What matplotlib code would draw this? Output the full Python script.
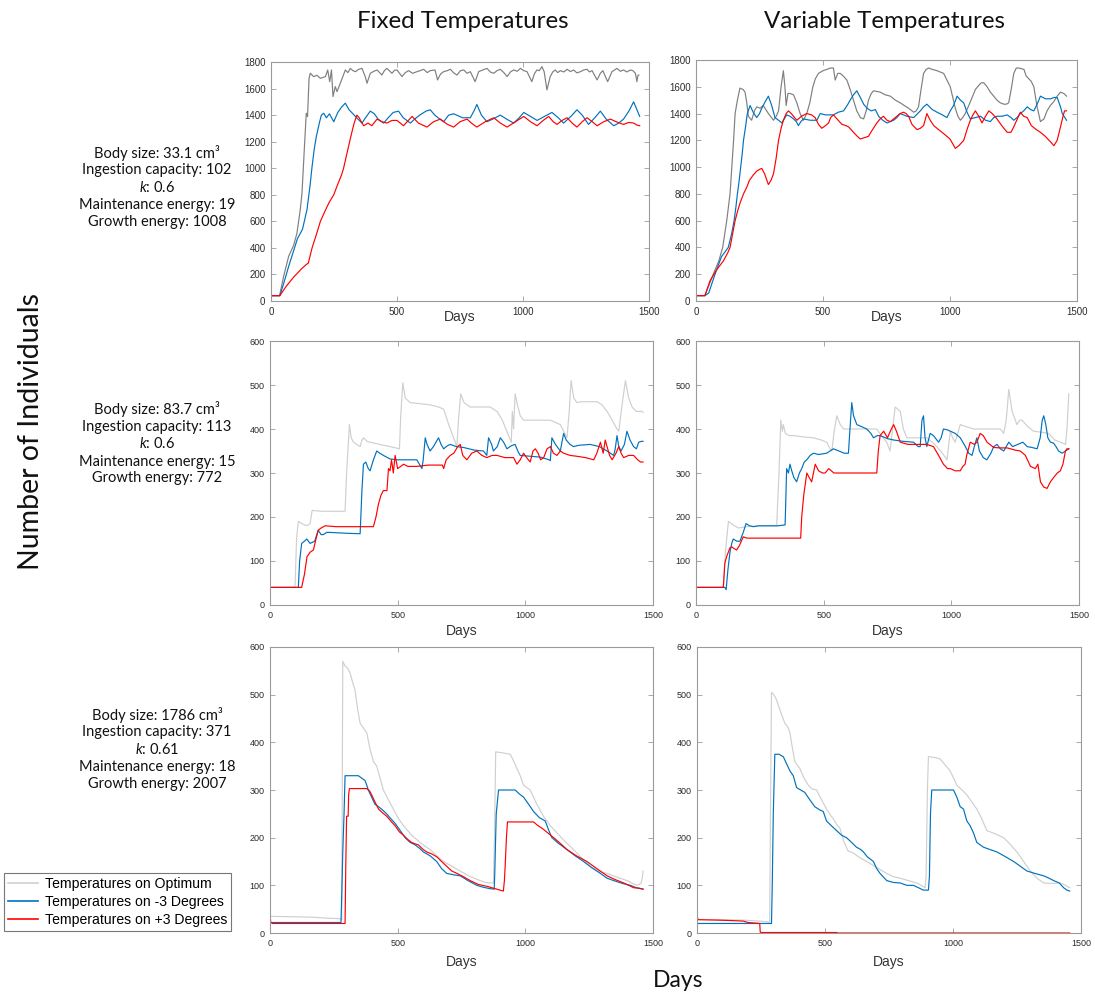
import matplotlib
matplotlib.use("Agg")
import matplotlib.pyplot as plt
from matplotlib.lines import Line2D

# ---------------------------------------------------------------------------
# Population time series, (day, number of individuals)
# Row 1: small species, row 2: medium species, row 3: large species
# "fix" = fixed temperatures, "var" = variable temperatures
# opt = optimum, m3 = -3 degrees, p3 = +3 degrees
# ---------------------------------------------------------------------------
fix1_opt = [(0, 40), (34, 40), (50, 185), (70, 336), (90, 420), (103, 511), (116, 687), (123, 812),
            (132, 1138), (140, 1414), (145, 1389), (151, 1677), (156, 1715), (169, 1690), (182, 1700),
            (196, 1677), (216, 1690), (225, 1740), (233, 1652), (240, 1740), (246, 1540), (255, 1615),
            (262, 1577), (275, 1640), (295, 1740), (305, 1720), (315, 1752), (325, 1735), (335, 1727),
            (348, 1745), (361, 1752), (374, 1690), (381, 1640), (394, 1715), (408, 1730), (421, 1740),
            (440, 1702), (450, 1735), (460, 1752), (480, 1715), (490, 1738), (500, 1740), (520, 1690),
            (533, 1720), (546, 1735), (562, 1715), (579, 1727), (592, 1735), (606, 1745), (620, 1720),
            (632, 1735), (651, 1740), (661, 1665), (673, 1710), (685, 1727), (700, 1735), (712, 1745),
            (725, 1718), (738, 1702), (752, 1735), (765, 1740), (778, 1715), (791, 1727), (810, 1652),
            (824, 1727), (840, 1740), (857, 1752), (870, 1725), (884, 1715), (897, 1735), (910, 1745),
            (924, 1720), (937, 1690), (950, 1725), (963, 1740), (977, 1730), (990, 1752), (1003, 1735),
            (1016, 1727), (1035, 1652), (1045, 1710), (1055, 1740), (1065, 1735), (1075, 1765),
            (1084, 1727), (1095, 1590), (1108, 1690), (1118, 1725), (1128, 1740), (1138, 1720),
            (1148, 1735), (1162, 1725), (1175, 1745), (1188, 1728), (1201, 1740), (1214, 1718),
            (1228, 1727), (1241, 1740), (1254, 1745), (1264, 1725), (1274, 1735), (1294, 1665),
            (1307, 1715), (1317, 1735), (1327, 1690), (1336, 1652), (1353, 1727), (1363, 1740),
            (1373, 1752), (1386, 1730), (1399, 1740), (1412, 1725), (1426, 1740), (1436, 1735),
            (1446, 1715), (1452, 1652), (1456, 1700), (1460, 1702)]
fix1_m3 = [(0, 40), (35, 40), (50, 130), (70, 260), (90, 380), (105, 470), (125, 540), (143, 690),
           (155, 870), (163, 1013), (172, 1150), (180, 1240), (193, 1350), (200, 1400), (209, 1414),
           (220, 1380), (232, 1410), (249, 1350), (265, 1420), (280, 1460), (295, 1490), (310, 1440),
           (330, 1400), (345, 1370), (361, 1340), (375, 1380), (394, 1430), (410, 1410), (425, 1370),
           (447, 1340), (465, 1380), (485, 1420), (506, 1430), (525, 1380), (553, 1340), (570, 1370),
           (590, 1400), (615, 1430), (632, 1440), (650, 1400), (670, 1370), (685, 1350), (705, 1400),
           (725, 1410), (760, 1380), (791, 1380), (805, 1430), (817, 1480), (835, 1400), (857, 1350),
           (880, 1370), (910, 1400), (935, 1370), (963, 1340), (985, 1380), (1003, 1420), (1030, 1390),
           (1056, 1360), (1085, 1390), (1115, 1420), (1140, 1380), (1161, 1340), (1190, 1390),
           (1214, 1440), (1235, 1400), (1260, 1330), (1285, 1380), (1307, 1430), (1330, 1370),
           (1360, 1320), (1380, 1340), (1399, 1370), (1420, 1430), (1439, 1500), (1450, 1450),
           (1463, 1390)]
fix1_p3 = [(0, 40), (35, 40), (60, 110), (90, 180), (120, 240), (140, 275), (148, 285), (163, 400),
           (180, 500), (196, 600), (215, 680), (230, 740), (249, 800), (265, 880), (280, 950),
           (288, 1000), (300, 1100), (312, 1200), (322, 1280), (330, 1340), (341, 1400), (350, 1380),
           (358, 1350), (368, 1320), (385, 1340), (400, 1320), (421, 1370), (440, 1350), (460, 1340),
           (480, 1360), (500, 1360), (526, 1320), (545, 1360), (560, 1390), (585, 1340), (619, 1310),
           (645, 1350), (672, 1370), (700, 1330), (725, 1310), (750, 1350), (778, 1370), (795, 1340),
           (817, 1310), (850, 1350), (884, 1380), (910, 1340), (937, 1310), (970, 1350), (1003, 1390),
           (1030, 1350), (1056, 1320), (1080, 1360), (1102, 1390), (1120, 1350), (1135, 1330),
           (1155, 1360), (1175, 1380), (1195, 1340), (1214, 1310), (1235, 1350), (1254, 1380),
           (1275, 1350), (1294, 1320), (1320, 1350), (1347, 1370), (1370, 1350), (1399, 1330),
           (1420, 1345), (1439, 1340), (1452, 1325), (1463, 1320)]

var1_opt = [(0, 40), (35, 40), (68, 200), (90, 300), (105, 400), (121, 600), (134, 800), (141, 1000),
            (148, 1200), (154, 1400), (163, 1500), (173, 1590), (185, 1580), (193, 1560), (200, 1480),
            (206, 1380), (219, 1350), (230, 1420), (239, 1450), (252, 1440), (265, 1460), (285, 1400),
            (305, 1350), (316, 1380), (325, 1420), (335, 1600), (344, 1720), (350, 1600), (355, 1460),
            (362, 1550), (370, 1550), (384, 1540), (397, 1480), (410, 1400), (423, 1350), (436, 1400),
            (448, 1480), (460, 1600), (470, 1660), (482, 1700), (500, 1720), (515, 1730), (530, 1740),
            (541, 1740), (548, 1650), (558, 1700), (568, 1700), (580, 1680), (594, 1650), (607, 1580),
            (620, 1500), (633, 1420), (647, 1370), (660, 1360), (670, 1420), (679, 1500), (690, 1550),
            (699, 1570), (712, 1565), (725, 1560), (745, 1540), (765, 1530), (785, 1500), (804, 1480),
            (820, 1460), (837, 1440), (857, 1410), (867, 1420), (876, 1450), (886, 1580), (896, 1700),
            (906, 1730), (916, 1740), (930, 1730), (949, 1720), (962, 1710), (975, 1700), (988, 1650),
            (1001, 1600), (1011, 1520), (1021, 1440), (1031, 1380), (1041, 1350), (1050, 1370),
            (1060, 1400), (1074, 1460), (1087, 1520), (1100, 1580), (1113, 1610), (1123, 1630),
            (1133, 1630), (1146, 1600), (1159, 1560), (1172, 1530), (1185, 1500), (1198, 1480),
            (1212, 1470), (1222, 1470), (1231, 1480), (1241, 1580), (1251, 1700), (1261, 1740),
            (1271, 1740), (1281, 1735), (1291, 1730), (1300, 1680), (1310, 1660), (1320, 1640),
            (1330, 1600), (1343, 1450), (1356, 1340), (1370, 1360), (1382, 1420), (1395, 1460),
            (1409, 1490), (1422, 1530), (1435, 1560), (1448, 1550), (1459, 1530)]
var1_m3 = [(0, 40), (35, 40), (50, 60), (75, 200), (100, 330), (127, 400), (140, 500), (150, 600),
           (157, 700), (163, 800), (170, 900), (176, 1000), (182, 1100), (187, 1200), (195, 1300),
           (202, 1400), (213, 1460), (225, 1410), (239, 1370), (250, 1400), (259, 1440), (270, 1480),
           (285, 1530), (298, 1460), (311, 1370), (325, 1350), (338, 1330), (357, 1390), (370, 1380),
           (384, 1360), (395, 1340), (403, 1310), (413, 1340), (423, 1360), (450, 1350), (476, 1350),
           (489, 1400), (510, 1390), (541, 1390), (560, 1410), (581, 1420), (595, 1460), (607, 1500),
           (620, 1540), (633, 1570), (647, 1520), (660, 1470), (673, 1440), (690, 1420), (706, 1430),
           (719, 1380), (735, 1350), (752, 1330), (778, 1350), (791, 1370), (804, 1400), (817, 1390),
           (830, 1380), (857, 1370), (883, 1420), (896, 1450), (909, 1470), (930, 1430), (949, 1410),
           (970, 1390), (988, 1370), (1001, 1420), (1014, 1460), (1028, 1530), (1041, 1500),
           (1054, 1480), (1067, 1410), (1080, 1360), (1100, 1370), (1120, 1380), (1140, 1350),
           (1159, 1340), (1172, 1370), (1185, 1380), (1205, 1380), (1225, 1390), (1240, 1370),
           (1251, 1350), (1264, 1370), (1277, 1400), (1290, 1420), (1304, 1450), (1317, 1430),
           (1330, 1420), (1343, 1470), (1356, 1530), (1376, 1510), (1396, 1510), (1410, 1520),
           (1422, 1520), (1435, 1450), (1442, 1400), (1459, 1350)]
var1_p3 = [(0, 40), (35, 40), (55, 150), (80, 230), (108, 300), (125, 360), (134, 400), (144, 500),
           (154, 600), (165, 680), (175, 740), (187, 800), (200, 850), (210, 900), (225, 940),
           (239, 970), (252, 985), (259, 990), (270, 950), (285, 870), (295, 900), (305, 950),
           (315, 1060), (325, 1200), (335, 1290), (344, 1350), (355, 1400), (364, 1420), (375, 1400),
           (388, 1370), (397, 1350), (415, 1380), (436, 1400), (455, 1390), (469, 1370), (482, 1320),
           (495, 1290), (510, 1310), (522, 1330), (530, 1370), (541, 1390), (555, 1360), (574, 1320),
           (590, 1310), (601, 1300), (620, 1260), (635, 1230), (647, 1210), (663, 1220), (679, 1230),
           (695, 1280), (712, 1330), (725, 1360), (738, 1380), (752, 1350), (765, 1340), (778, 1360),
           (791, 1380), (804, 1400), (817, 1410), (827, 1400), (837, 1380), (850, 1320), (870, 1280),
           (883, 1290), (896, 1310), (909, 1400), (922, 1350), (936, 1310), (955, 1280), (975, 1250),
           (1000, 1210), (1021, 1140), (1035, 1160), (1054, 1200), (1067, 1280), (1080, 1350),
           (1090, 1390), (1100, 1420), (1113, 1380), (1126, 1330), (1140, 1380), (1153, 1420),
           (1166, 1400), (1185, 1360), (1200, 1320), (1212, 1290), (1225, 1260), (1240, 1260),
           (1251, 1300), (1265, 1360), (1277, 1410), (1290, 1380), (1304, 1370), (1320, 1310),
           (1340, 1280), (1356, 1260), (1375, 1230), (1395, 1190), (1409, 1160), (1422, 1200),
           (1435, 1300), (1445, 1380), (1451, 1420), (1459, 1420)]

fix2_opt = [(0, 40), (98, 40), (104, 150), (111, 190), (125, 185), (144, 180), (157, 185), (165, 215),
            (200, 213), (250, 213), (294, 213), (300, 300), (311, 410), (318, 380), (327, 370),
            (340, 365), (353, 360), (360, 375), (366, 380), (380, 372), (392, 370), (430, 365),
            (470, 360), (507, 355), (512, 430), (520, 505), (530, 470), (549, 460), (580, 458),
            (627, 455), (660, 450), (680, 445), (700, 410), (719, 380), (732, 360), (738, 420),
            (747, 480), (760, 460), (784, 450), (820, 450), (862, 450), (889, 440), (910, 420),
            (938, 380), (945, 370), (949, 440), (954, 400), (960, 480), (967, 460), (980, 430),
            (993, 420), (1040, 420), (1098, 420), (1137, 410), (1163, 380), (1172, 440), (1179, 510),
            (1190, 470), (1202, 460), (1220, 462), (1281, 462), (1300, 455), (1320, 440), (1340, 420),
            (1359, 400), (1366, 395), (1380, 460), (1392, 510), (1405, 470), (1418, 450), (1435, 440),
            (1457, 440), (1461, 438)]
fix2_m3 = [(0, 40), (111, 40), (116, 100), (124, 140), (135, 145), (144, 150), (157, 140), (175, 145),
           (189, 170), (200, 160), (209, 160), (222, 165), (235, 165), (300, 163), (353, 162),
           (360, 260), (366, 320), (375, 325), (385, 310), (392, 305), (405, 330), (418, 350),
           (430, 345), (444, 340), (470, 332), (497, 330), (540, 330), (575, 330), (590, 315),
           (595, 310), (600, 330), (608, 380), (615, 365), (627, 350), (640, 360), (660, 380),
           (670, 365), (680, 355), (695, 362), (706, 365), (730, 360), (758, 358), (800, 352),
           (836, 350), (849, 340), (856, 380), (868, 365), (875, 350), (890, 360), (902, 380),
           (915, 370), (928, 355), (945, 362), (960, 365), (972, 348), (980, 340), (1020, 338),
           (1060, 336), (1093, 330), (1098, 328), (1104, 380), (1118, 365), (1137, 350), (1150, 390),
           (1160, 375), (1175, 365), (1189, 360), (1210, 363), (1254, 365), (1290, 360), (1320, 350),
           (1346, 340), (1352, 355), (1359, 385), (1366, 360), (1375, 350), (1388, 365), (1398, 395),
           (1410, 375), (1424, 360), (1435, 355), (1444, 370), (1455, 372), (1461, 372)]
fix2_p3 = [(0, 40), (124, 40), (135, 70), (145, 110), (157, 120), (170, 125), (180, 150), (189, 170),
           (200, 175), (216, 180), (260, 178), (330, 178), (405, 178), (415, 200), (425, 230),
           (435, 250), (444, 260), (458, 260), (464, 310), (470, 305), (476, 330), (483, 300),
           (490, 340), (500, 310), (512, 315), (523, 320), (540, 315), (575, 315), (620, 318),
           (675, 318), (680, 310), (690, 330), (706, 340), (720, 345), (735, 360), (745, 365),
           (755, 340), (771, 330), (790, 345), (810, 350), (830, 340), (849, 335), (870, 340),
           (889, 340), (920, 335), (954, 335), (967, 320), (980, 330), (993, 345), (1005, 335),
           (1019, 325), (1030, 350), (1039, 355), (1050, 345), (1060, 330), (1072, 335), (1085, 355),
           (1098, 360), (1110, 345), (1124, 340), (1137, 350), (1150, 345), (1175, 340), (1202, 338),
           (1235, 335), (1268, 330), (1280, 345), (1294, 370), (1305, 345), (1313, 375), (1320, 360),
           (1330, 340), (1340, 330), (1355, 345), (1366, 360), (1375, 345), (1385, 335), (1405, 340),
           (1424, 340), (1440, 330), (1451, 325), (1461, 325)]

var2_opt = [(0, 40), (107, 40), (115, 120), (127, 190), (145, 182), (166, 175), (200, 178), (250, 180),
            (290, 180), (316, 180), (325, 300), (332, 420), (338, 395), (342, 410), (350, 390),
            (365, 385), (382, 385), (420, 382), (460, 380), (490, 375), (512, 370), (525, 355),
            (532, 350), (540, 390), (551, 430), (565, 410), (578, 400), (620, 400), (660, 400),
            (708, 400), (725, 385), (747, 370), (760, 350), (770, 400), (780, 450), (790, 445),
            (800, 440), (812, 400), (826, 380), (870, 380), (904, 380), (925, 370), (943, 360),
            (965, 345), (983, 330), (990, 365), (996, 395), (1005, 380), (1015, 370), (1035, 410),
            (1060, 405), (1088, 400), (1140, 400), (1192, 400), (1205, 390), (1215, 420), (1225, 490),
            (1238, 440), (1257, 410), (1268, 420), (1277, 420), (1300, 405), (1322, 395), (1350, 393),
            (1381, 390), (1405, 375), (1427, 370), (1447, 365), (1453, 400), (1460, 480)]
var2_m3 = [(0, 40), (113, 40), (118, 35), (125, 80), (133, 120), (140, 140), (146, 150), (160, 145),
           (172, 145), (185, 165), (196, 185), (210, 180), (225, 178), (245, 180), (280, 180),
           (320, 180), (349, 182), (355, 310), (362, 300), (368, 320), (375, 305), (383, 290),
           (394, 280), (405, 300), (414, 310), (424, 325), (434, 330), (447, 340), (460, 345),
           (480, 342), (512, 345), (525, 350), (538, 355), (560, 350), (580, 345), (597, 345),
           (603, 400), (610, 460), (617, 430), (630, 410), (650, 405), (669, 400), (685, 390),
           (695, 380), (710, 385), (721, 385), (750, 378), (774, 375), (810, 372), (852, 370),
           (870, 360), (878, 360), (885, 420), (891, 430), (897, 380), (904, 360), (917, 390),
           (930, 385), (950, 370), (960, 380), (969, 400), (985, 398), (996, 395), (1015, 390),
           (1035, 380), (1055, 360), (1068, 345), (1081, 340), (1090, 360), (1100, 380), (1110, 350),
           (1125, 335), (1139, 330), (1155, 345), (1166, 360), (1179, 365), (1192, 355), (1205, 350),
           (1215, 360), (1225, 370), (1240, 360), (1260, 365), (1280, 370), (1297, 360), (1316, 358),
           (1336, 355), (1348, 380), (1356, 420), (1362, 430), (1370, 410), (1378, 380), (1388, 370),
           (1400, 368), (1410, 360), (1420, 350), (1434, 345), (1447, 350), (1460, 355)]
var2_p3 = [(0, 40), (107, 40), (113, 95), (120, 110), (133, 130), (140, 132), (150, 128), (159, 125),
           (170, 135), (185, 155), (199, 152), (260, 152), (330, 152), (410, 152), (414, 200),
           (422, 250), (434, 300), (443, 290), (453, 280), (460, 300), (467, 320), (480, 305),
           (495, 300), (506, 300), (520, 310), (540, 300), (600, 300), (670, 300), (708, 300),
           (714, 350), (721, 385), (735, 395), (750, 380), (765, 400), (774, 410), (785, 395),
           (800, 370), (830, 365), (870, 365), (904, 365), (930, 360), (950, 340), (969, 320),
           (985, 310), (996, 310), (1015, 305), (1035, 305), (1045, 315), (1054, 320), (1060, 340),
           (1074, 370), (1090, 365), (1100, 370), (1113, 390), (1125, 385), (1140, 370), (1166, 358),
           (1190, 357), (1219, 357), (1250, 352), (1270, 350), (1290, 340), (1310, 315), (1329, 310),
           (1339, 320), (1349, 280), (1362, 268), (1375, 265), (1388, 280), (1401, 290), (1415, 300),
           (1427, 305), (1437, 320), (1447, 350), (1453, 355), (1460, 355)]

fix3_opt = [(0, 35), (100, 34), (170, 33), (230, 31), (274, 30), (281, 28), (283, 300), (285, 570),
            (294, 560), (304, 555), (314, 545), (324, 525), (333, 510), (343, 470), (353, 440),
            (366, 430), (379, 420), (392, 385), (405, 360), (418, 350), (431, 325), (444, 300),
            (463, 280), (483, 260), (503, 240), (523, 225), (555, 205), (588, 190), (607, 182),
            (627, 175), (653, 162), (680, 150), (712, 140), (745, 130), (785, 118), (823, 110),
            (845, 106), (862, 105), (875, 105), (879, 200), (884, 380), (910, 378), (941, 375),
            (955, 360), (967, 345), (980, 330), (993, 310), (1006, 305), (1019, 300), (1045, 270),
            (1071, 245), (1098, 225), (1124, 210), (1155, 192), (1189, 175), (1220, 158), (1254, 140),
            (1285, 130), (1320, 125), (1360, 117), (1398, 110), (1420, 104), (1437, 100), (1453, 104),
            (1458, 115), (1461, 130)]
fix3_m3 = [(0, 22), (278, 22), (282, 100), (285, 170), (290, 250), (294, 330), (320, 330), (346, 330),
           (359, 325), (372, 320), (379, 310), (385, 300), (398, 285), (411, 270), (425, 265),
           (441, 258), (457, 250), (473, 240), (490, 230), (510, 215), (529, 200), (549, 190),
           (568, 185), (585, 178), (601, 170), (627, 162), (653, 150), (672, 135), (692, 125),
           (720, 122), (745, 120), (775, 110), (810, 100), (835, 96), (862, 93), (878, 92), (880, 120),
           (886, 250), (895, 300), (930, 300), (960, 300), (976, 292), (993, 285), (1013, 270),
           (1032, 255), (1055, 242), (1078, 235), (1092, 215), (1104, 200), (1130, 188), (1163, 175),
           (1195, 162), (1228, 150), (1260, 137), (1294, 125), (1320, 115), (1346, 110), (1380, 104),
           (1411, 100), (1435, 95), (1461, 92)]
fix3_p3 = [(0, 40), (3, 22), (10, 20), (150, 20), (294, 20), (297, 150), (300, 245), (306, 245),
           (308, 290), (311, 303), (345, 303), (379, 303), (390, 298), (398, 290), (411, 275),
           (425, 260), (441, 252), (457, 245), (473, 235), (490, 225), (507, 212), (523, 205),
           (540, 196), (555, 190), (568, 187), (581, 185), (598, 176), (614, 170), (633, 166),
           (653, 160), (672, 150), (692, 140), (712, 130), (732, 125), (758, 118), (784, 110),
           (815, 102), (849, 98), (875, 94), (888, 92), (900, 90), (914, 88), (918, 110), (921, 140),
           (926, 200), (930, 233), (980, 233), (1032, 233), (1050, 225), (1065, 220), (1088, 210),
           (1111, 200), (1137, 188), (1163, 175), (1200, 162), (1241, 150), (1280, 135), (1320, 120),
           (1352, 112), (1385, 105), (1405, 100), (1424, 95), (1445, 94), (1461, 92)]

var3_opt = [(0, 28), (100, 28), (180, 27), (245, 25), (284, 23), (287, 250), (291, 505), (300, 500),
            (310, 490), (326, 465), (343, 440), (355, 432), (363, 420), (372, 390), (382, 360),
            (392, 352), (402, 345), (418, 325), (435, 310), (450, 302), (467, 300), (486, 280),
            (506, 260), (520, 248), (532, 240), (545, 228), (558, 220), (575, 190), (590, 172),
            (610, 168), (636, 158), (663, 150), (700, 138), (741, 125), (767, 118), (793, 115),
            (825, 110), (858, 105), (875, 100), (891, 95), (895, 120), (900, 300), (904, 370),
            (930, 368), (950, 365), (970, 352), (989, 340), (1002, 325), (1015, 310), (1035, 300),
            (1054, 290), (1073, 275), (1093, 260), (1112, 240), (1132, 215), (1165, 208), (1198, 200),
            (1225, 185), (1250, 170), (1276, 150), (1302, 130), (1328, 115), (1354, 105), (1390, 104),
            (1419, 105), (1440, 100), (1456, 95)]
var3_m3 = [(0, 20), (150, 20), (291, 20), (294, 100), (298, 250), (304, 375), (320, 375), (337, 370),
           (350, 355), (363, 340), (376, 330), (389, 305), (405, 300), (421, 295), (440, 280),
           (460, 265), (480, 258), (493, 255), (506, 235), (525, 225), (545, 215), (565, 205),
           (584, 200), (604, 190), (623, 180), (640, 175), (650, 170), (665, 160), (689, 150),
           (702, 135), (715, 125), (741, 110), (767, 106), (793, 105), (820, 100), (845, 100),
           (865, 95), (884, 90), (904, 90), (908, 120), (912, 250), (917, 300), (960, 300), (1002, 300),
           (1015, 285), (1028, 265), (1041, 260), (1054, 235), (1067, 225), (1080, 210), (1093, 190),
           (1119, 180), (1145, 175), (1172, 170), (1205, 160), (1237, 150), (1263, 140), (1289, 130),
           (1320, 125), (1354, 120), (1375, 115), (1393, 110), (1415, 105), (1432, 95), (1445, 90),
           (1456, 88)]
var3_p3 = [(0, 38), (4, 28), (82, 27), (140, 26), (180, 25), (200, 22), (245, 20), (247, 2), (250, 1),
           (545, 1), (550, 0), (1456, 0)]

col_titles = ["Fixed Temperatures", "Variable Temperatures"]
row_params = [
    ["Body size: 33.1 cm³", "Ingestion capacity: 102", "$k$: 0.6",
     "Maintenance energy: 19", "Growth energy: 1008"],
    ["Body size: 83.7 cm³", "Ingestion capacity: 113", "$k$: 0.6",
     "Maintenance energy: 15", "Growth energy: 772"],
    ["Body size: 1786 cm³", "Ingestion capacity: 371", "$k$: 0.61",
     "Maintenance energy: 18", "Growth energy: 2007"],
]
legend_labels = ["Temperatures on Optimum", "Temperatures on -3 Degrees",
                 "Temperatures on +3 Degrees"]
x_ticks = [0, 500, 1000, 1500]
y_ticks_rows = [list(range(0, 1801, 200)), list(range(0, 601, 100)), list(range(0, 601, 100))]

# ---------------------------------------------------------------------------
plt.rcParams["font.family"] = ["Liberation Sans", "DejaVu Sans"]
plt.rcParams["mathtext.fontset"] = "custom"
plt.rcParams["mathtext.it"] = "Lato:italic"
plt.rcParams["mathtext.rm"] = "Lato"

W, H = 1095, 996
fig = plt.figure(figsize=(W / 100, H / 100), dpi=100)

BLUE = "#0072BD"
RED = "#FF0000"
GRAY_DARK = "#7f7f7f"
GRAY_LIGHT = "#cfcfcf"
FRAME = "#9a9a9a"


def px_rect(left, top, right, bottom):
    return [left / W, 1 - bottom / H, (right - left) / W, (bottom - top) / H]


rects = [
    [px_rect(271, 62, 649, 301), px_rect(696, 60, 1077, 301)],
    [px_rect(270, 341, 653, 605), px_rect(696, 341, 1079, 605)],
    [px_rect(270, 647, 653, 933), px_rect(697, 647, 1081, 933)],
]
series = [
    [(fix1_opt, fix1_m3, fix1_p3), (var1_opt, var1_m3, var1_p3)],
    [(fix2_opt, fix2_m3, fix2_p3), (var2_opt, var2_m3, var2_p3)],
    [(fix3_opt, fix3_m3, fix3_p3), (var3_opt, var3_m3, var3_p3)],
]
days_y = [-0.066, -0.10, -0.10]
tick_fs = [7, 6.5, 6.5]

for r in range(3):
    for c in range(2):
        ax = fig.add_axes(rects[r][c])
        opt, m3, p3 = series[r][c]
        gcol = GRAY_DARK if r == 0 else GRAY_LIGHT
        for data, col in ((opt, gcol), (m3, BLUE), (p3, RED)):
            d, v = zip(*data)
            ax.plot(d, v, color=col, lw=0.85)
        ax.set_xlim(0, 1500)
        ax.set_ylim(y_ticks_rows[r][0], y_ticks_rows[r][-1])
        ax.set_xticks(x_ticks)
        ax.set_yticks(y_ticks_rows[r])
        ax.tick_params(direction="in", length=3.5, width=0.6, color=FRAME,
                       labelsize=tick_fs[r], labelcolor="#2b2b2b", pad=4,
                       top=True, right=True)
        for sp in ax.spines.values():
            sp.set_color(FRAME)
            sp.set_linewidth(0.8)
        ax.text(0.5, days_y[r], "Days", transform=ax.transAxes, ha="center", va="center",
                fontsize=10, color="#333333")

# Column titles and shared labels
fig.text(463 / W, 1 - 22 / H, col_titles[0], ha="center", va="center",
         fontsize=17.4, family="Lato", color="#111111")
fig.text(884 / W, 1 - 22 / H, col_titles[1], ha="center", va="center",
         fontsize=17.4, family="Lato", color="#111111")
fig.text(31 / W, 1 - 431 / H, "Number of Individuals", rotation=90, ha="center",
         va="center", fontsize=20.5, family="Lato", color="#111111")
fig.text(678 / W, 1 - 980 / H, "Days", ha="center", va="center",
         fontsize=16.5, family="Lato", color="#111111")

# Species parameters beside each row
row_line_y = [[153, 170, 187, 205, 222], [409, 427, 444, 462, 478], [715, 732, 749, 767, 784]]
for params, ys in zip(row_params, row_line_y):
    for txt, y in zip(params, ys):
        fig.text(157 / W, 1 - y / H, txt, ha="center", va="center",
                 fontsize=10.5, family="Lato", color="#111111")

handles = [Line2D([], [], color=GRAY_LIGHT, lw=1.2),
           Line2D([], [], color=BLUE, lw=1.2),
           Line2D([], [], color=RED, lw=1.2)]
leg = fig.legend(handles, legend_labels, loc="upper left",
                 bbox_to_anchor=(4 / W, 1 - 873 / H), borderaxespad=0,
                 frameon=True, fancybox=False, fontsize=10.1, handlelength=2.1,
                 handletextpad=0.5, labelspacing=0.27, borderpad=0.3)
leg.get_frame().set_edgecolor("#555555")
leg.get_frame().set_linewidth(0.8)

fig.savefig("out.png", dpi=100)
